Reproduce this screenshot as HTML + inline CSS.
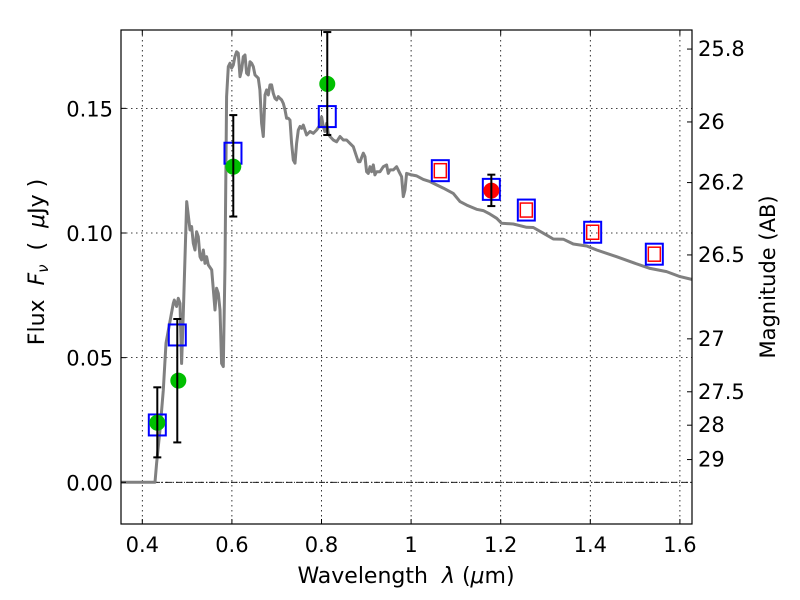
<!DOCTYPE html>
<html><head><meta charset="utf-8"><style>
html,body{margin:0;padding:0;background:#fff;}
svg{display:block;font-family:"DejaVu Sans","Liberation Sans",sans-serif;}
</style></head><body>
<svg id="chart" width="800" height="600" viewBox="0 0 800 600" xmlns="http://www.w3.org/2000/svg">
<rect width="800" height="600" fill="#fff"/>
<g id="grid"></g>
<g id="plot"></g>
<g id="axes"></g>
<text x="406" y="583" font-size="22" text-anchor="middle" xml:space="preserve">Wavelength  <tspan font-style="italic">λ</tspan> (<tspan font-style="italic">μ</tspan>m)</text>
<text transform="translate(44,262) rotate(-90)" font-size="22" text-anchor="middle" xml:space="preserve">Flux  <tspan font-style="italic">F</tspan><tspan font-style="italic" font-size="15" dy="4">ν</tspan><tspan dy="-4">  (  </tspan><tspan font-style="italic">μ</tspan>Jy )</text>
<text transform="translate(775,277) rotate(-90)" font-size="21" text-anchor="middle">Magnitude (AB)</text>
</svg>
<script>
const xTicks = [0.4, 0.6, 0.8, 1.0, 1.2, 1.4, 1.6];
const xTickLabels = ["0.4", "0.6", "0.8", "1", "1.2", "1.4", "1.6"];
const yTicks = [0.0, 0.05, 0.10, 0.15];
const yTickLabels = ["0.00", "0.05", "0.10", "0.15"];
const magTicks = [25.8, 26, 26.2, 26.5, 27, 27.5, 28, 29];
const magTickLabels = ["25.8", "26", "26.2", "26.5", "27", "27.5", "28", "29"];
const modelWave = [0.350,0.4283,0.4320,0.4394,0.4469,0.4528,0.4692,0.4714,0.4766,0.4804,0.4841,0.4878,0.4915,0.4990,0.5064,0.5101,0.5138,0.5176,0.5213,0.5250,0.5287,0.5324,0.5362,0.5399,0.5436,0.5473,0.5548,0.5622,0.5659,0.5696,0.5734,0.5771,0.5808,0.5845,0.5882,0.5920,0.5957,0.5994,0.6031,0.6068,0.6106,0.6143,0.6180,0.6217,0.6254,0.6292,0.6329,0.6366,0.6403,0.6440,0.6478,0.6515,0.6589,0.6626,0.6664,0.6701,0.6738,0.6775,0.6812,0.6850,0.6887,0.6924,0.6961,0.6999,0.7036,0.7073,0.7110,0.7147,0.7185,0.7222,0.7259,0.7296,0.7333,0.7371,0.7408,0.7445,0.7482,0.7519,0.7557,0.7594,0.7668,0.7743,0.7817,0.7891,0.7966,0.8003,0.8040,0.8077,0.8115,0.8152,0.8189,0.8263,0.8338,0.8412,0.8487,0.8561,0.8635,0.8710,0.8784,0.8821,0.8859,0.8933,0.8970,0.9007,0.9045,0.9082,0.9119,0.9156,0.9193,0.9231,0.9305,0.9379,0.9454,0.9491,0.9528,0.9603,0.9677,0.9751,0.9789,0.9826,0.9863,0.9900,1.0012,1.0124,1.0273,1.0422,1.0570,1.0719,1.0942,1.1091,1.1240,1.1463,1.1612,1.1761,1.1910,1.2021,1.2282,1.2579,1.2728,1.2951,1.3175,1.3398,1.3621,1.3919,1.4142,1.4588,1.4960,1.5332,1.5704,1.6002,1.6263];
const modelFlux = [0,0,0.0076,0.0210,0.0370,0.0558,0.0718,0.0731,0.0705,0.0738,0.0718,0.0477,0.0678,0.1126,0.1012,0.1026,0.0959,0.0932,0.1005,0.0985,0.0905,0.0892,0.0932,0.0878,0.0905,0.0872,0.0852,0.0691,0.0778,0.0758,0.0691,0.0477,0.0464,0.0870,0.1547,0.1667,0.1681,0.1661,0.1674,0.1707,0.1727,0.1721,0.1627,0.1654,0.1707,0.1714,0.1641,0.1634,0.1687,0.1681,0.1667,0.1634,0.1621,0.1574,0.1440,0.1387,0.1554,0.1574,0.1554,0.1594,0.1594,0.1560,0.1540,0.1534,0.1547,0.1540,0.1534,0.1520,0.1494,0.1460,0.1460,0.1453,0.1360,0.1293,0.1280,0.1360,0.1413,0.1427,0.1420,0.1433,0.1393,0.1407,0.1400,0.1413,0.1433,0.1466,0.1427,0.1407,0.1440,0.1400,0.1387,0.1373,0.1366,0.1387,0.1373,0.1373,0.1360,0.1346,0.1306,0.1286,0.1286,0.1320,0.1306,0.1246,0.1239,0.1266,0.1246,0.1273,0.1233,0.1246,0.1246,0.1266,0.1273,0.1239,0.1253,0.1253,0.1266,0.1239,0.1226,0.1146,0.1173,0.1239,0.1233,0.1229,0.1215,0.1206,0.1193,0.1180,0.1159,0.1126,0.1112,0.1095,0.1090,0.1076,0.1059,0.1039,0.1036,0.1023,0.1022,0.0999,0.0976,0.0975,0.0956,0.0948,0.0932,0.0905,0.0881,0.0858,0.0845,0.0825,0.0814];
const bandWave = [0.4335,0.4781,0.6024,0.8129,1.0652,1.1791,1.2572,1.4053,1.5429];
const bandFlux = [0.0230,0.0591,0.1320,0.1467,0.1250,0.1175,0.1092,0.1003,0.0915];
const predWave = [1.0652,1.2572,1.4053,1.5429];
const predFlux = [0.1250,0.1092,0.1003,0.0915];
const obsWave = [0.4335,0.4804,0.6031,0.8129];
const obsFlux = [0.0239,0.0408,0.1266,0.1598];
const obsLo = [0.0100,0.0160,0.1066,0.1393];
const obsHi = [0.0381,0.0655,0.1473,0.1806];
const redWave = [1.1791];
const redFlux = [0.1170];
const redLo = [0.1108];
const redHi = [0.1234];

const L=121,R=692,T=30,B=524;
const X0=0.4,XPX=142.3,XS=448, Y0PX=482.3, YS=2493;
const xs=v=>XPX+(v-X0)*XS;
const ys=v=>Y0PX-v*YS;
const NS="http://www.w3.org/2000/svg";
function mk(tag,parent,attrs){const e=document.createElementNS(NS,tag);for(const k in attrs)e.setAttribute(k,attrs[k]);parent.appendChild(e);return e;}
const grid=document.getElementById('grid'),plot=document.getElementById('plot'),axes=document.getElementById('axes');

const clip=mk('clipPath',document.getElementById('chart'),{id:'clipP'});
mk('rect',clip,{x:L,y:T,width:R-L,height:B-T});
plot.setAttribute('clip-path','url(#clipP)');

xTicks.forEach((t,i)=>{
  const x=xs(t);
  const g=mk('line',grid,{x1:x,x2:x,y1:T,y2:B,stroke:'#000','stroke-width':0.8,'stroke-dasharray':'1.5,3.5'});
  
  
  mk('line',axes,{x1:x,x2:x,y1:B,y2:B-5,stroke:'#000','stroke-width':1});
  mk('line',axes,{x1:x,x2:x,y1:T,y2:T+5,stroke:'#000','stroke-width':1});
  const tx=mk('text',axes,{x:x,y:B+28,'font-size':21,'text-anchor':'middle'});
  tx.textContent=xTickLabels[i];
  
  
});
yTicks.forEach((t,i)=>{
  const y=ys(t);
  const g=mk('line',grid,{x1:L,x2:R,y1:y,y2:y,stroke:'#000','stroke-width':0.8,'stroke-dasharray':'1.5,3.5'});
  
  
  mk('line',axes,{x1:L,x2:L+5,y1:y,y2:y,stroke:'#000','stroke-width':1});
  const tx=mk('text',axes,{x:L-8,y:y+8,'font-size':21,'text-anchor':'end'});
  tx.textContent=yTickLabels[i];
  
  
});
magTicks.forEach((m,i)=>{
  const y=ys(Math.pow(10,-(m-23.9)/2.5));
  mk('line',axes,{x1:R,x2:R-5,y1:y,y2:y,stroke:'#000','stroke-width':1});
  const tx=mk('text',axes,{x:R+6,y:y+7,'font-size':21,'text-anchor':'start'});
  tx.textContent=magTickLabels[i];
  
  
});
const z=mk('line',plot,{x1:L,x2:R,y1:ys(0),y2:ys(0),stroke:'#000','stroke-width':0.8,'stroke-dasharray':'6,2,1,2'});


const pts=modelWave.map((w,i)=>xs(w).toFixed(1)+','+ys(modelFlux[i]).toFixed(1)).join(' ');
const ml=mk('polyline',plot,{points:pts,fill:'none',stroke:'#808080','stroke-width':3,'stroke-linejoin':'round'});


function ebar(w,lo,hi,name){
  const x=xs(w),y1=ys(lo),y2=ys(hi);
  const g=mk('g',plot,{stroke:'#000','stroke-width':2});
  
  
  mk('line',g,{x1:x,x2:x,y1:y1,y2:y2});
  mk('line',g,{x1:x-4,x2:x+4,y1:y1,y2:y1});
  mk('line',g,{x1:x-4,x2:x+4,y1:y2,y2:y2});
}
bandWave.forEach((w,i)=>{
  const r=mk('rect',plot,{x:xs(w)-8.5,y:ys(bandFlux[i])-10.5,width:17,height:21,fill:'none',stroke:'#0000ff','stroke-width':2});
  
  
});
predWave.forEach((w,i)=>{
  const r=mk('rect',plot,{x:xs(w)-6,y:ys(predFlux[i])-7,width:12,height:14,fill:'none',stroke:'#ff0000','stroke-width':1.5});
  
  
});
obsWave.forEach((w,i)=>{
  const c=mk('circle',plot,{cx:xs(w),cy:ys(obsFlux[i]),r:8,fill:'#00bf00'});
  
  
});
obsWave.forEach((w,i)=>ebar(i==1?0.4781:w,obsLo[i],obsHi[i],'observed-error-bar'));
redWave.forEach((w,i)=>{
  const c=mk('circle',plot,{cx:xs(w),cy:ys(redFlux[i]),r:8,fill:'#ff0000'});
  
  
  ebar(w,redLo[i],redHi[i],'red-error-bar');
});
const fr=mk('rect',axes,{x:L,y:T,width:R-L,height:B-T,fill:'none',stroke:'#000','stroke-width':1.2});


</script>
</body></html>
